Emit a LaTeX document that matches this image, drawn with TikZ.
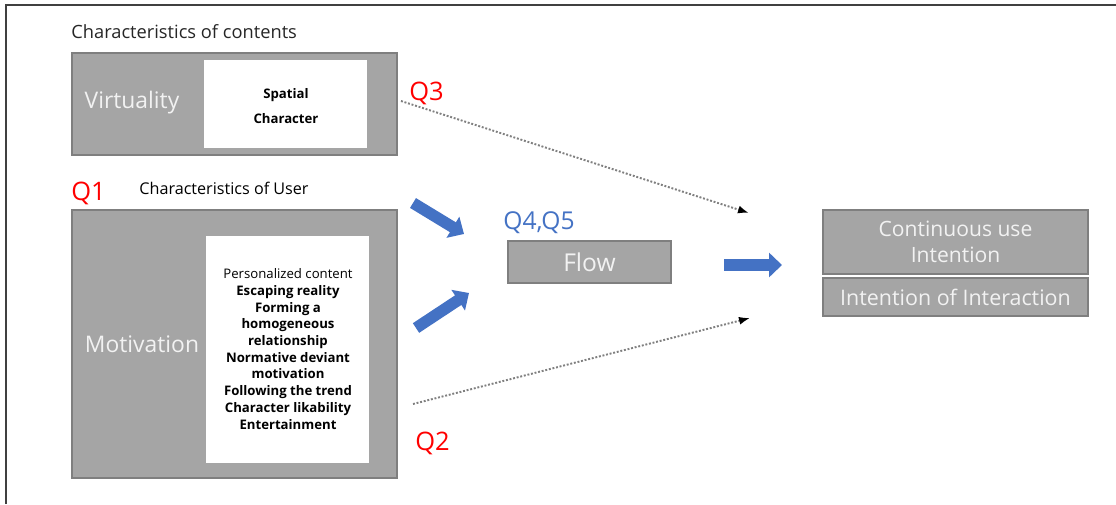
\documentclass[tikz,border=0pt]{standalone}
\usepackage{fontspec}
\setmainfont{Open Sans}
\usetikzlibrary{arrows.meta}

\definecolor{boxgray}{HTML}{A5A5A5}
\definecolor{boxline}{HTML}{7F7F7F}
\definecolor{qred}{HTML}{FF0000}
\definecolor{qblue}{HTML}{4472C4}
\definecolor{framegray}{HTML}{404040}

\begin{document}
\begin{tikzpicture}[x=0.02cm, y=-0.02cm,
    every node/.style={font=\small, inner sep=0pt},
    graybox/.style={draw=boxline, line width=0.8pt, fill=boxgray, text=white!95!black},
    whitebox/.style={fill=white},
    qlabel/.style={text=qred, font=\fontsize{14.5}{16}\selectfont},
    heading/.style={text=black!85, font=\fontsize{9}{11}\selectfont},
    bigarrow/.style={qblue, line width=0.23cm, -{Triangle[length=0.26cm, width=0.48cm]}},
    dotarrow/.style={gray, densely dotted, line width=1.1pt, -{Latex[black, length=0.22cm, width=0.16cm]}}]
    \useasboundingbox (0,0) rectangle (1116,504);

    % Frame at the top and left
    \draw[framegray, line width=1.4pt] (6,504) -- (6,5) -- (1116,5);

    % Characteristics of contents
    \node[heading, font=\fontsize{10.4}{12}\selectfont, anchor=west] (conthead) at (71,32) {Characteristics of contents};
    \node[graybox, minimum width=6.5cm, minimum height=2.04cm] (virt) at (234.5,104) {};
    \node[whitebox, minimum width=3.26cm, minimum height=1.76cm] (spat) at (285.5,104) {};
    \node[text=white!95!black, font=\fontsize{13}{15}\selectfont] (virtlab) at (132,103) {Virtuality};
    \node[font=\fontsize{7.5}{14}\selectfont\bfseries, align=center] (spatlab) at (286,106) {Spatial\\Character};

    % Characteristics of User
    \node[qlabel, anchor=west] (q1) at (71,193) {Q1};
    \node[heading, font=\fontsize{9.2}{11}\selectfont, text=black] (userhead) at (224,188) {Characteristics of User};
    \node[graybox, minimum width=6.5cm, minimum height=5.36cm] (motiv) at (234.5,344) {};
    \node[whitebox, minimum width=3.26cm, minimum height=4.54cm] (motlist) at (287.5,349.5) {};
    \node[text=white!95!black, font=\fontsize{13}{15}\selectfont] (motivlab) at (142,344) {Motivation};
    \node[font=\fontsize{7.5}{9.5}\selectfont\bfseries, align=center] (listlab) at (288,349) {%
        {\mdseries Personalized content}\\Escaping reality\\Forming a\\homogeneous\\relationship\\%
        Normative deviant\\motivation\\Following the trend\\Character likability\\Entertainment};

    % Flow
    \node[text=qblue, font=\fontsize{14}{16}\selectfont, anchor=west] (q45) at (503,223) {Q4,Q5};
    \node[graybox, minimum width=3.26cm, minimum height=0.84cm, font=\fontsize{14}{16}\selectfont] (flow) at (589.5,262) {Flow};

    % Outcomes
    \node[graybox, minimum width=5.3cm, minimum height=1.28cm, align=center,
          font=\fontsize{12}{14.5}\selectfont] (cont) at (955.5,242) {Continuous use\\Intention};
    \node[graybox, minimum width=5.3cm, minimum height=0.76cm,
          font=\fontsize{12.2}{14}\selectfont] (inter) at (955.5,297) {Intention of Interaction};

    % Block arrows
    \coordinate (ua) at (413,203);
    \coordinate (ub) at (464,234);
    \coordinate (la) at (416,328);
    \coordinate (lb) at (469,293);
    \coordinate (ra) at (724,265);
    \coordinate (rb) at (782,265);
    \draw[bigarrow] (ua) -- (ub);
    \draw[bigarrow] (la) -- (lb);
    \draw[bigarrow] (ra) -- (rb);

    % Direct paths
    \coordinate (q3s) at (401,101);
    \coordinate (q3e) at (749,213);
    \coordinate (q2s) at (413,404);
    \coordinate (q2e) at (750,318);
    \draw[dotarrow] (q3s) -- (q3e);
    \draw[dotarrow] (q2s) -- (q2e);
    \node[qlabel, anchor=west] (q3) at (409,93) {Q3};
    \node[qlabel, anchor=west] (q2) at (415,443) {Q2};
\end{tikzpicture}
\end{document}
